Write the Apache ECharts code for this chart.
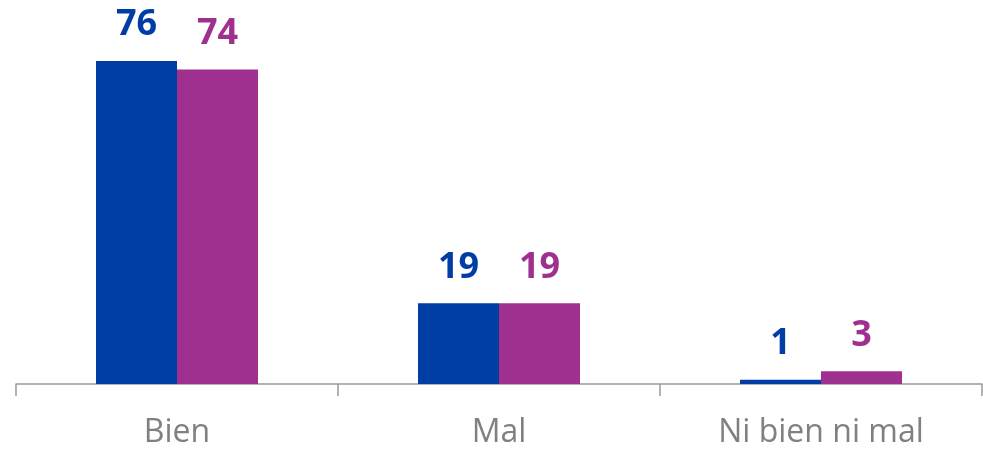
<!DOCTYPE html>
<html>
<head>
<meta charset="utf-8">
<script src="https://cdn.jsdelivr.net/npm/echarts@6/dist/echarts.min.js"></script>
<style>
  html, body { margin: 0; padding: 0; background: #fff; }
  #chart { width: 983px; height: 450px; }
</style>
</head>
<body>
<div id="chart"></div>
<script>
  // categories and the two series
  const categories = ['Bien', 'Mal', 'Ni bien ni mal']
  const serieA = [76, 19, 1]
  const serieB = [74, 19, 3]

  const blue = '#003DA5'
  const purple = '#A0308F'

  const mkLabel = (color) => ({
    show: true,
    position: 'top',
    distance: 18,
    color: color,
    fontFamily: 'Open Sans',
    fontWeight: 'bold',
    fontSize: 36
  })

  let chart = echarts.init(document.getElementById('chart'))
  chart.setOption({
    animation: false,
    grid: {left: 16, right: 1, top: 44, bottom: 66},
    xAxis: {
      type: 'category',
      data: categories,
      axisLine: {lineStyle: {color: '#999', width: 1.5}},
      axisTick: {show: true, length: 12, lineStyle: {color: '#999', width: 1.5}},
      axisLabel: {
        color: '#808080',
        fontFamily: 'Open Sans',
        fontSize: 32,
        margin: 33
      }
    },
    yAxis: {
      type: 'value',
      min: 0,
      max: 80,
      show: false,
      splitLine: {show: false}
    },
    series: [
      {
        name: 'A',
        type: 'bar',
        data: serieA,
        barWidth: 81,
        barGap: '0%',
        itemStyle: {color: blue},
        label: mkLabel(blue)
      },
      {
        name: 'B',
        type: 'bar',
        data: serieB,
        barWidth: 81,
        barGap: '0%',
        itemStyle: {color: purple},
        label: mkLabel(purple)
      }
    ]
  })
</script>
</body>
</html>
